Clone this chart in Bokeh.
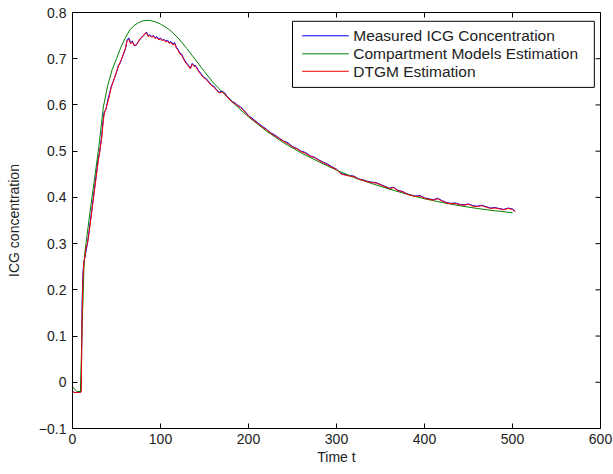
import math
from bokeh.plotting import figure
from bokeh.models import Range1d, FixedTicker
from bokeh.core.properties import value
from bokeh.embed import file_html
from bokeh.resources import INLINE

# ---- data ----
t_model = [0, 5, 9, 10, 11, 12, 13, 14, 16, 20, 25, 30, 35, 40, 45, 50, 55, 60, 65, 70, 75, 80, 85,
           90, 95, 100, 110, 120, 130, 140, 150, 160, 180, 200, 220, 240, 260, 280, 300, 320, 340,
           360, 380, 400, 420, 440, 460, 480, 500]
compartment = [-0.01, -0.02, -0.02, 0.05, 0.13, 0.18, 0.25, 0.28, 0.31, 0.37, 0.44, 0.51, 0.595, 0.642,
               0.676, 0.70, 0.725, 0.745, 0.762, 0.772, 0.778, 0.782, 0.783, 0.782, 0.779, 0.775,
               0.763, 0.745, 0.722, 0.697, 0.672, 0.648, 0.609, 0.574, 0.544, 0.518, 0.496, 0.477,
               0.459, 0.443, 0.430, 0.418, 0.407, 0.397, 0.389, 0.382, 0.376, 0.371, 0.367]

t_meas = [0, 2, 4, 6, 8, 9.5, 10, 10.5, 11, 12, 13, 14, 15, 16, 17, 19, 21, 23, 25, 27, 29, 31, 33, 35,
          36, 38, 40, 42, 44, 46, 48, 50, 52, 54, 56, 58, 60, 62, 64, 66, 68, 70, 72, 74, 76, 78, 80,
          82, 84, 86, 88, 90, 92, 94, 96, 98, 100, 102, 104, 106, 108, 110, 112, 114, 116, 118, 120,
          122, 124, 126, 128, 130, 132, 134, 136, 138, 140, 143, 146, 149, 152, 155, 158, 161, 164,
          167, 170, 173, 176, 179, 182, 185, 188, 191, 194, 197, 200, 205, 210, 215, 220, 225, 230,
          235, 240, 245, 250, 255, 260, 265, 270, 275, 280, 285, 290, 295, 300, 305, 310, 315, 320,
          325, 330, 335, 340, 345, 350, 355, 360, 365, 370, 375, 380, 385, 390, 395, 400, 405, 410,
          415, 420, 425, 430, 435, 440, 445, 450, 455, 460, 465, 470, 475, 480, 485, 490, 495, 500, 503]
measured = [-0.02, -0.022, -0.022, -0.022, -0.022, -0.02, 0.01, 0.09, 0.18, 0.24, 0.26, 0.27, 0.28,
            0.29, 0.30, 0.33, 0.36, 0.39, 0.42, 0.45, 0.48, 0.50, 0.53, 0.57, 0.585, 0.59, 0.61,
            0.625, 0.64, 0.65, 0.66, 0.67, 0.685, 0.69, 0.70, 0.71, 0.72, 0.74, 0.745, 0.735, 0.738,
            0.73, 0.728, 0.735, 0.74, 0.745, 0.75, 0.752, 0.758, 0.75, 0.752, 0.748, 0.75, 0.745,
            0.748, 0.742, 0.745, 0.74, 0.742, 0.738, 0.74, 0.735, 0.737, 0.732, 0.735, 0.725, 0.72,
            0.712, 0.71, 0.702, 0.695, 0.69, 0.685, 0.68, 0.69, 0.685, 0.685, 0.675, 0.668, 0.66,
            0.657, 0.65, 0.643, 0.64, 0.632, 0.628, 0.63, 0.626, 0.618, 0.612, 0.607, 0.604, 0.599,
            0.596, 0.59, 0.584, 0.577, 0.57, 0.562, 0.555, 0.548, 0.54, 0.535, 0.528, 0.522, 0.518,
            0.51, 0.506, 0.50, 0.497, 0.49, 0.487, 0.481, 0.476, 0.472, 0.466, 0.461, 0.452, 0.449,
            0.447, 0.446, 0.44, 0.438, 0.435, 0.433, 0.432, 0.428, 0.424, 0.42, 0.422, 0.415, 0.413,
            0.408, 0.405, 0.403, 0.404, 0.399, 0.397, 0.395, 0.398, 0.393, 0.389, 0.387, 0.388,
            0.385, 0.384, 0.386, 0.382, 0.381, 0.383, 0.380, 0.377, 0.378, 0.376, 0.374, 0.377,
            0.375, 0.370]
dtgm = [-0.02, -0.022, -0.022, -0.022, -0.022, -0.022, -0.02, 0.07, 0.16, 0.23, 0.26, 0.27, 0.285,
        0.295, 0.30, 0.325, 0.355, 0.385, 0.415, 0.445, 0.475, 0.50, 0.525, 0.565, 0.58, 0.592, 0.605,
        0.62, 0.638, 0.648, 0.66, 0.672, 0.682, 0.692, 0.70, 0.712, 0.722, 0.738, 0.742, 0.732, 0.736,
        0.728, 0.73, 0.733, 0.742, 0.744, 0.748, 0.754, 0.756, 0.748, 0.75, 0.746, 0.749, 0.743,
        0.746, 0.741, 0.743, 0.739, 0.741, 0.736, 0.738, 0.733, 0.735, 0.73, 0.733, 0.723, 0.718,
        0.71, 0.708, 0.70, 0.693, 0.688, 0.683, 0.678, 0.688, 0.684, 0.683, 0.673, 0.666, 0.659,
        0.655, 0.648, 0.642, 0.638, 0.631, 0.626, 0.628, 0.624, 0.617, 0.61, 0.606, 0.602, 0.598,
        0.594, 0.589, 0.582, 0.576, 0.568, 0.561, 0.553, 0.547, 0.539, 0.533, 0.527, 0.521, 0.516,
        0.509, 0.505, 0.499, 0.495, 0.489, 0.486, 0.48, 0.475, 0.47, 0.465, 0.46, 0.451, 0.448,
        0.446, 0.445, 0.439, 0.437, 0.434, 0.432, 0.431, 0.427, 0.423, 0.419, 0.421, 0.414, 0.412,
        0.407, 0.404, 0.402, 0.403, 0.398, 0.396, 0.394, 0.397, 0.392, 0.388, 0.386, 0.387,
        0.384, 0.383, 0.385, 0.381, 0.380, 0.382, 0.379, 0.376, 0.377, 0.375, 0.373, 0.376,
        0.374, 0.369]

series_labels = ["Measured ICG Concentration", "Compartment Models Estimation", "DTGM Estimation"]
series_colors = ["#0000ff", "#008000", "#ff0000"]

x_ticks = [0, 100, 200, 300, 400, 500, 600]
y_ticks = [-0.1, 0, 0.1, 0.2, 0.3, 0.4, 0.5, 0.6, 0.7, 0.8]

FONT = "Liberation Sans"
X0, X1, Y0, Y1 = 0, 600, -0.1, 0.8

# legend box layout (in plot units, upper-right corner of the axes)
LEG_LEFT, LEG_RIGHT, LEG_TOP, LEG_BOTTOM = 250, 593, 0.781, 0.638
LEG_SW0, LEG_SW1, LEG_TX = 261, 314, 319
LEG_ROWS = [0.7496, 0.7106, 0.6728]

p = figure(width=613, height=474, output_backend="svg", toolbar_location=None,
           x_range=Range1d(X0, X1), y_range=Range1d(Y0, Y1),
           min_border_left=72, min_border_right=13, min_border_top=12, min_border_bottom=46,
           x_axis_label="Time t", y_axis_label="ICG concentration")
p.background_fill_color = "white"
p.border_fill_color = "white"
p.grid.visible = False
p.outline_line_color = "black"
p.outline_line_width = 1

for ax in p.xaxis + p.yaxis:
    ax.major_label_text_font = FONT
    ax.major_label_text_font_size = "14px"
    ax.major_label_text_color = "#222222"
    ax.axis_label_text_font = FONT
    ax.axis_label_text_font_size = "14px"
    ax.axis_label_text_font_style = "normal"
    ax.axis_label_text_color = "#222222"
    ax.major_tick_in = 5
    ax.major_tick_out = 0
    ax.minor_tick_line_color = None
    ax.axis_line_color = "black"
    ax.major_tick_line_color = "black"

p.xaxis.ticker = FixedTicker(ticks=x_ticks)
p.yaxis.ticker = FixedTicker(ticks=y_ticks)
p.xaxis.major_label_standoff = 5
p.xaxis.axis_label_standoff = 2
p.yaxis.major_label_standoff = 6
p.yaxis.axis_label_standoff = 14

# mirrored inward ticks on top and right edges (box style), clipped to the frame
p.scatter(x_ticks, [Y1] * len(x_ticks), marker="dash", angle=math.pi / 2, size=10,
          line_color="black", line_width=1)
p.scatter([X1] * len(y_ticks), y_ticks, marker="dash", size=10,
          line_color="black", line_width=1)

p.line(t_meas, measured, line_color=series_colors[0], line_width=1)
p.line(t_model, compartment, line_color=series_colors[1], line_width=1)
p.line(t_meas, dtgm, line_color=series_colors[2], line_width=1)

# legend drawn as a boxed key (swatch + label per series)
p.quad(left=[LEG_LEFT], right=[LEG_RIGHT], top=[LEG_TOP], bottom=[LEG_BOTTOM],
       fill_color="white", line_color="black", line_width=1)
p.segment(x0=[LEG_SW0] * 3, x1=[LEG_SW1] * 3, y0=LEG_ROWS, y1=LEG_ROWS,
          line_color=series_colors, line_width=1)
p.text(x=[LEG_TX] * 3, y=LEG_ROWS, text=series_labels, text_font=value(FONT),
       text_font_size="15.5px", text_baseline="middle", text_align="left", text_color="#222222")

open("out.html", "w").write(file_html(p, INLINE))
